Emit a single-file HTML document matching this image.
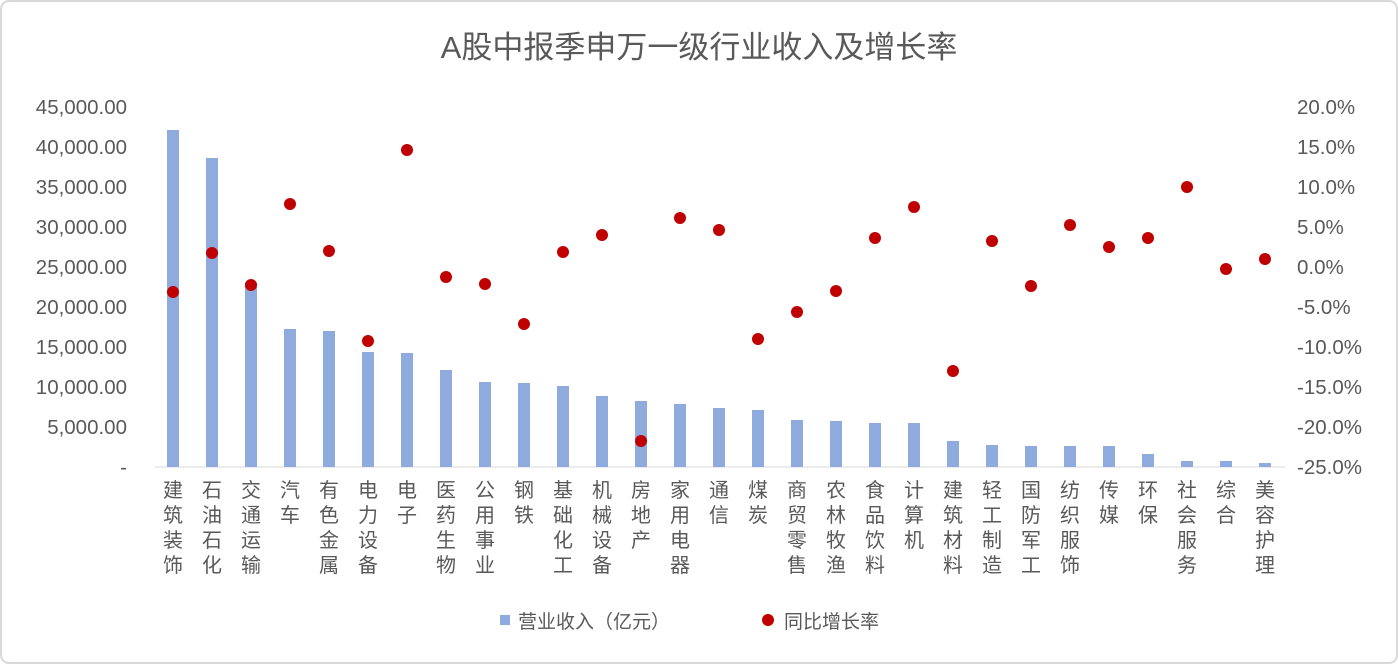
<!DOCTYPE html>
<html><head><meta charset="utf-8"><style>
body{margin:0;background:#fff;}
svg text{font-family:"Liberation Sans","Noto Sans CJK SC",sans-serif;fill:#595959;}
</style></head><body>
<svg width="1398" height="664" xmlns="http://www.w3.org/2000/svg">
<rect x="1" y="1" width="1396" height="662" rx="8" fill="#fff" stroke="#d9d9d9" stroke-width="2"/>
<text x="699" y="58" font-size="31" text-anchor="middle">A股中报季申万一级行业收入及增长率</text>
<g id="left" font-size="20.5" text-anchor="end"></g>
<g id="right" font-size="20.5"></g>
<line x1="155" y1="467" x2="1285" y2="467" stroke="#d9d9d9"/>
<g id="bars"></g><g id="dots"></g><g id="cats" font-size="20"></g>
<rect x="500" y="615" width="10" height="10" fill="#8faadc"/>
<text x="518" y="628" font-size="19">营业收入（亿元）</text>
<circle cx="768" cy="620" r="6" fill="#c00000"/>
<text x="784" y="628" font-size="19">同比增长率</text>
</svg>
<script>
const ns="http://www.w3.org/2000/svg";
function el(t,a,p,txt){const e=document.createElementNS(ns,t);for(const k in a)e.setAttribute(k,a[k]);if(txt!==undefined)e.textContent=txt;document.getElementById(p).appendChild(e);}
for(let i=0;i<=9;i++){const y=467-i*40;
el("text",{x:127,y:y+7},"left",i==0?"-":(i*5000).toLocaleString("en-US")+".00");
const v=-25+i*5;el("text",{x:1297,y:y+7},"right",v.toFixed(1)+"%");}
const cats=["建筑装饰","石油石化","交通运输","汽车","有色金属","电力设备","电子","医药生物","公用事业","钢铁","基础化工","机械设备","房地产","家用电器","通信","煤炭","商贸零售","农林牧渔","食品饮料","计算机","建筑材料","轻工制造","国防军工","纺织服饰","传媒","环保","社会服务","综合","美容护理"];
const tops=[130,158,283,329,331,352,353,370,382,383,386,396,401,404,408,410,420,421,423,423,441,445,446,446,446,454,461,461,463];
const dy=[292,253,285,204,251,341,150,277,284,324,252,235,441,218,230,339,312,291,238,207,371,241,286,225,247,238,187,269,259];
cats.forEach((c,i)=>{const x=173+i*39;
el("rect",{x:x-6,y:tops[i],width:12,height:467-tops[i],fill:"#8faadc"},"bars");
el("circle",{cx:x,cy:dy[i],r:6,fill:"#c00000"},"dots");
[...c].forEach((ch,j)=>el("text",{x:x,y:497+j*25,"text-anchor":"middle"},"cats",ch));});
</script>
</body></html>
